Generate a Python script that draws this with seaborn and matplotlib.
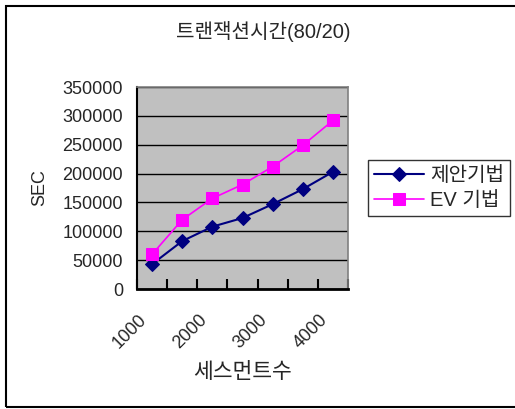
import numpy as np
import pandas as pd
import matplotlib
matplotlib.use("Agg")
import matplotlib.pyplot as plt
from matplotlib.patches import Rectangle
from matplotlib.transforms import ScaledTranslation
import seaborn as sns

# Data
segments = [1000, 1500, 2000, 2500, 3000, 3500, 4000]
tick_labels = ["1000", "", "2000", "", "3000", "", "4000"]
proposed = [43000, 83000, 108000, 123000, 147000, 173000, 203000]
ev_method = [60000, 120000, 157000, 181000, 212000, 249000, 292000]
series_names = ["제안기법", "EV 기법"]

sns.set_theme(style="white")
plt.rcParams["font.family"] = ["Liberation Sans", "Noto Sans CJK KR", "DejaVu Sans"]

pos = np.arange(len(segments))
df = pd.DataFrame({
    "pos": np.concatenate([pos, pos]),
    "sec": proposed + ev_method,
    "series": [series_names[0]] * len(pos) + [series_names[1]] * len(pos),
})

fig = plt.figure(figsize=(5.15, 4.09), dpi=100)
fig.patch.set_facecolor("white")
ax = fig.add_axes([137 / 515, 1 - 289 / 409, (348 - 137) / 515, (289 - 87) / 409])
ax.set_facecolor("#C0C0C0")

sns.lineplot(data=df[df.series == series_names[0]], x="pos", y="sec", ax=ax,
             color="#000080", marker="D", markersize=7, markeredgecolor="#000080",
             linewidth=1.5, label=series_names[0])
sns.lineplot(data=df[df.series == series_names[1]], x="pos", y="sec", ax=ax,
             color="#FF00FF", marker="s", markersize=9, markeredgecolor="#FF00FF",
             linewidth=1.2, label=series_names[1])

ax.set_xlim(-0.5, len(segments) - 0.5)
ax.set_ylim(0, 350000)
ax.set_yticks(np.arange(0, 350001, 50000))
ax.set_yticklabels([str(v) for v in range(0, 350001, 50000)], fontsize=13)
ax.tick_params(axis="y", length=0, pad=10)
ax.yaxis.grid(True, color="black", linewidth=1.0)
ax.xaxis.grid(False)

ax.set_xticks(pos)
ax.set_xticklabels(tick_labels, fontsize=13, rotation=45, ha="right",
                   va="top", rotation_mode="anchor")
ax.tick_params(axis="x", which="major", length=0, pad=12)
shift = ScaledTranslation(-14 / 100, -6 / 100, fig.dpi_scale_trans)
for lbl in ax.get_xticklabels():
    lbl.set_transform(lbl.get_transform() + shift)
ax.set_xticks(np.arange(-0.5, len(segments) + 0.5, 1), minor=True)
ax.tick_params(axis="x", which="minor", direction="in", length=7, width=1.5,
               color="black", bottom=True)

for side in ["left", "bottom"]:
    ax.spines[side].set_color("black")
ax.spines["left"].set_linewidth(1.5)
ax.spines["bottom"].set_linewidth(2.0)
for side in ["top", "right"]:
    ax.spines[side].set_color("#808080")
    ax.spines[side].set_linewidth(1.2)

ax.set_xlabel("세스먼트수", fontsize=15.5, labelpad=7)
ax.set_ylabel("SEC", fontsize=13, labelpad=10)
fig.text(263 / 515, 1 - 31 / 409, "트랜잭션시간(80/20)", fontsize=14.5,
         ha="center", va="center")

leg = ax.legend(loc="upper left", bbox_to_anchor=(368 / 515, 1 - 160 / 409),
                bbox_transform=fig.transFigure, fontsize=14.5, frameon=True,
                fancybox=False, edgecolor="black", handlelength=2.5,
                handletextpad=0.3, borderpad=0.3, labelspacing=0.3,
                borderaxespad=0)
leg.get_frame().set_linewidth(1.0)

# outer chart border
fig.patches.append(Rectangle((6 / 515, 1 - 407 / 409), 1.0, (407 - 6) / 409,
                             transform=fig.transFigure, fill=False,
                             edgecolor="black", linewidth=1.5))

fig.savefig("out.png", dpi=100)
